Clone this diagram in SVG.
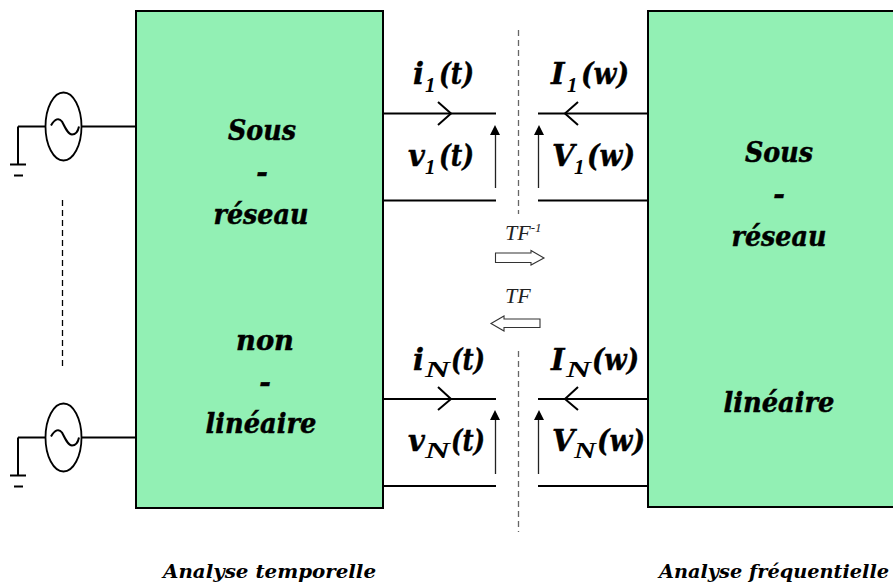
<svg xmlns="http://www.w3.org/2000/svg" width="893" height="587" viewBox="0 0 893 587">
<defs>
<style>
.box{fill:#92f0b4;stroke:#000;stroke-width:2}
.w{fill:none;stroke:#000;stroke-width:2}
.t{fill:none;stroke:#222;stroke-width:1.3}
.d{fill:none;stroke:#666;stroke-width:1.3;stroke-dasharray:6 4}
.h{fill:#000;stroke:none}
.o{fill:#fff;stroke:#333;stroke-width:1.1}
text{font-family:"DejaVu Serif","Liberation Serif",serif;font-style:italic;font-weight:bold;fill:#000}
.big{font-size:28px;text-anchor:middle;stroke:#000;stroke-width:.5}
.lab{font-size:29px;stroke:#000;stroke-width:.4}
.sub{font-size:21px;font-family:"Liberation Serif",serif;stroke:none}
.subn{font-size:23px;font-family:"Liberation Serif",serif;stroke:none}
.cap{font-size:19px}
.tf{font-size:22px;font-family:"Liberation Serif",serif;font-weight:normal;fill:#222}
</style>
<g id="src">
<line class="w" x1="18" y1="0" x2="45" y2="0"/>
<line class="w" x1="18" y1="0" x2="18" y2="38"/>
<line class="w" x1="10" y1="38" x2="26" y2="38"/>
<line class="w" x1="14" y1="49" x2="23" y2="49"/>
<ellipse cx="63.500" cy="0" rx="18" ry="34" fill="#fff" stroke="#000" stroke-width="1.800"/>
<path class="w" d="M51 -1C55 -8 59 -9 62 -5C65 1 68 8 72 8C76 8 78 5 79 0"/>
</g>
</defs>
<g id="connectors">
<line class="w" x1="81" y1="126.500" x2="136" y2="126.500"/>
<line class="w" x1="81" y1="437.500" x2="136" y2="437.500"/>
<line class="d" x1="518.500" y1="30" x2="518.500" y2="214"/>
<line class="d" x1="518.500" y1="351" x2="518.500" y2="532"/>
<line x1="62.500" y1="200" x2="62.500" y2="370" stroke="#000" stroke-width="1.300" stroke-dasharray="6 4"/>
<path class="w" d="M384 113.500H496M538 113.500H648M384 200.500H496M538 200.500H648M384 399H496M538 399H648M384 486H496M538 486H648"/>
<path class="w" d="M438 102L451 113.500L438 125M578 102L565 113.500L578 125M438 387L451 399L438 410M578 387L565 399L578 410"/>
<path class="t" d="M495.500 188V134M538.500 188V134M495.500 474V420M538.500 474V420"/>
<path class="h" d="M495 125L500 135H490ZM539 125L544 135H534ZM495 410L500 420H490ZM539 410L544 420H534Z"/>
<path class="o" d="M495.500 253H531V250.500L544 258L531 265V262.500H495.500Z"/>
<path class="o" d="M540 319H504V316L491 323.500L504 331V327.500H540Z"/>
</g>
<g id="source1"><use href="#src" y="126.500"/></g>
<g id="source2"><use href="#src" y="437.500"/></g>
<g id="left-box">
<rect class="box" x="136" y="11" width="247" height="497"/>
<text class="big" x="262" y="140" textLength="68" lengthAdjust="spacingAndGlyphs">Sous</text>
<text class="big" x="262" y="182">-</text>
<text class="big" x="261" y="224" textLength="95" lengthAdjust="spacingAndGlyphs">réseau</text>
<text class="big" x="265" y="350" textLength="58" lengthAdjust="spacingAndGlyphs">non</text>
<text class="big" x="265" y="392">-</text>
<text class="big" x="261" y="433" textLength="111" lengthAdjust="spacingAndGlyphs">linéaire</text>
</g>
<g id="right-box">
<rect class="box" x="648" y="11" width="247" height="496"/>
<text class="big" x="779" y="162" textLength="68" lengthAdjust="spacingAndGlyphs">Sous</text>
<text class="big" x="779" y="204">-</text>
<text class="big" x="779" y="246" textLength="95" lengthAdjust="spacingAndGlyphs">réseau</text>
<text class="big" x="779" y="412" textLength="111" lengthAdjust="spacingAndGlyphs">linéaire</text>
</g>
<g id="labels">
<text class="lab" x="413" y="84">i</text><text class="sub" x="425" y="92">1</text><text class="lab" x="439" y="84" textLength="35" lengthAdjust="spacingAndGlyphs">(t)</text>
<text class="lab" x="551" y="84">I</text><text class="sub" x="567" y="92">1</text><text class="lab" x="581" y="84" textLength="48" lengthAdjust="spacingAndGlyphs">(w)</text>
<text class="lab" x="408" y="166">v</text><text class="sub" x="425" y="174">1</text><text class="lab" x="439" y="166" textLength="35" lengthAdjust="spacingAndGlyphs">(t)</text>
<text class="lab" x="552" y="166">V</text><text class="sub" x="574" y="174">1</text><text class="lab" x="587" y="166" textLength="48" lengthAdjust="spacingAndGlyphs">(w)</text>
<text class="lab" x="413" y="370">i</text><text class="subn" x="425" y="377" textLength="25" lengthAdjust="spacingAndGlyphs">N</text><text class="lab" x="451" y="370" textLength="34" lengthAdjust="spacingAndGlyphs">(t)</text>
<text class="lab" x="551" y="370">I</text><text class="subn" x="566" y="377" textLength="25" lengthAdjust="spacingAndGlyphs">N</text><text class="lab" x="592" y="370" textLength="47" lengthAdjust="spacingAndGlyphs">(w)</text>
<text class="lab" x="408" y="451">v</text><text class="subn" x="425" y="458" textLength="25" lengthAdjust="spacingAndGlyphs">N</text><text class="lab" x="451" y="451" textLength="34" lengthAdjust="spacingAndGlyphs">(t)</text>
<text class="lab" x="552" y="451">V</text><text class="subn" x="574" y="458" textLength="22" lengthAdjust="spacingAndGlyphs">N</text><text class="lab" x="597" y="451" textLength="48" lengthAdjust="spacingAndGlyphs">(w)</text>
<text class="tf" x="505" y="240">TF<tspan font-size="13" dy="-8">-1</tspan></text>
<text class="tf" x="505" y="303">TF</text>
<text class="cap" x="163" y="578" textLength="213" lengthAdjust="spacingAndGlyphs">Analyse temporelle</text>
<text class="cap" x="659" y="578" textLength="230" lengthAdjust="spacingAndGlyphs">Analyse fréquentielle</text>
</g>
</svg>
